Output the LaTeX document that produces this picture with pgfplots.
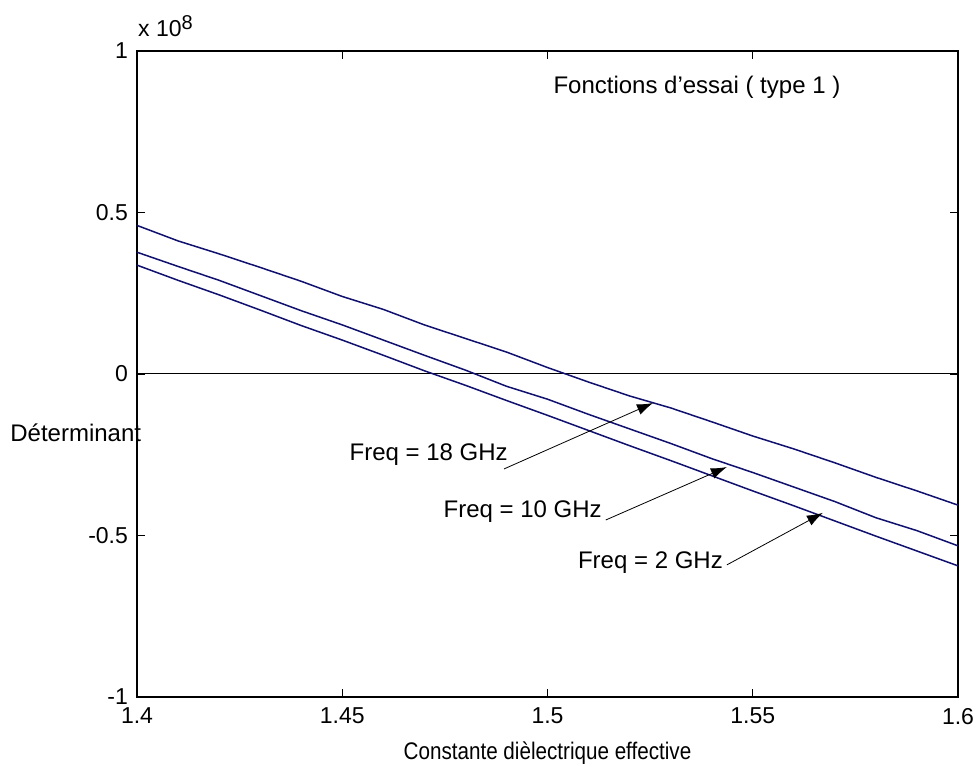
\documentclass[border=0pt]{standalone}
\usepackage{fontspec}
\setmainfont{Liberation Sans}
\usepackage{graphicx}
\usepackage{pgfplots}
\pgfplotsset{compat=1.18}
\usetikzlibrary{arrows.meta}
\definecolor{navy}{RGB}{16,16,110}
\pgfplotstableread{
x y
1.40 0.460
1.41 0.412
1.42 0.372
1.43 0.330
1.44 0.287
1.45 0.240
1.46 0.200
1.47 0.152
1.48 0.110
1.49 0.068
1.50 0.020
1.51 -0.025
1.52 -0.068
1.53 -0.105
1.54 -0.148
1.55 -0.192
1.56 -0.232
1.57 -0.275
1.58 -0.320
1.59 -0.362
1.60 -0.406
}\freqA
\pgfplotstableread{
x y
1.40 0.377
1.41 0.333
1.42 0.290
1.43 0.243
1.44 0.196
1.45 0.152
1.46 0.105
1.47 0.058
1.48 0.012
1.49 -0.038
1.50 -0.078
1.51 -0.125
1.52 -0.170
1.53 -0.215
1.54 -0.262
1.55 -0.305
1.56 -0.350
1.57 -0.395
1.58 -0.445
1.59 -0.485
1.60 -0.532
}\freqB
\pgfplotstableread{
x y
1.40 0.337
1.41 0.290
1.42 0.245
1.43 0.198
1.44 0.150
1.45 0.105
1.46 0.058
1.47 0.010
1.48 -0.035
1.49 -0.082
1.50 -0.128
1.51 -0.175
1.52 -0.222
1.53 -0.268
1.54 -0.315
1.55 -0.362
1.56 -0.408
1.57 -0.455
1.58 -0.502
1.59 -0.548
1.60 -0.594
}\freqC
\begin{document}
\begin{tikzpicture}
\begin{axis}[
  width=410.5pt, height=323pt, scale only axis,
  xmin=1.4, xmax=1.6, ymin=-1, ymax=1,
  xtick={1.4,1.45,1.5,1.55,1.6},
  xticklabels={1.4,1.45,1.5,1.55,1.6},
  ytick={-1,-0.5,0,0.5,1},
  yticklabels={-1,-0.5,0,0.5,1},
  tick align=inside, major tick length=4pt,
  tick style={black, line width=0.4pt},
  axis line style={line width=0.7pt},
  ticklabel style={font=\fontsize{11.5}{13}\selectfont},
  xticklabel style={yshift=-2pt},
  yticklabel style={xshift=-1pt},
  xlabel={\scalebox{0.86}[1]{Constante dièlectrique effective}},
  xlabel style={font=\fontsize{12}{14}\selectfont, inner sep=0pt, at={(axis description cs:0.5,-0.0975)}, anchor=base},
  clip=false,
]
\addplot[black, line width=0.5pt] coordinates {(1.4,0) (1.6,0)};
\addplot[navy, line width=0.75pt] table[x=x,y=y] {\freqA};
\addplot[navy, line width=0.75pt] table[x=x,y=y] {\freqB};
\addplot[navy, line width=0.75pt] table[x=x,y=y] {\freqC};
\draw[line width=0.4pt, -{Latex[length=8pt,width=5.5pt]}] (axis cs:1.4894,-0.294) -- (axis cs:1.5257,-0.0898);
\draw[line width=0.4pt, -{Latex[length=8pt,width=5.5pt]}] (axis cs:1.5142,-0.452) -- (axis cs:1.5437,-0.288);
\draw[line width=0.4pt, -{Latex[length=8pt,width=5.5pt]}] (axis cs:1.5437,-0.591) -- (axis cs:1.5671,-0.430);
\node[anchor=east, inner sep=0pt, font=\fontsize{12}{14}\selectfont] at (axis cs:1.4904,-0.251) {Freq = 18 GHz};
\node[anchor=east, inner sep=0pt, font=\fontsize{12}{14}\selectfont] at (axis cs:1.5133,-0.427) {Freq = 10 GHz};
\node[anchor=east, inner sep=0pt, font=\fontsize{12}{14}\selectfont] at (axis cs:1.5428,-0.585) {Freq = 2 GHz};
\node[anchor=center, inner sep=0pt, font=\fontsize{12}{14}\selectfont] at (axis cs:1.5364,0.889) {Fonctions d'essai ( type 1 )};
\node[anchor=west, inner sep=0pt, font=\fontsize{12}{14}\selectfont] at (rel axis cs:-0.1547,0.4087) {Déterminant};
\node[anchor=base west, inner sep=0pt, font=\fontsize{11.5}{13}\selectfont] at (rel axis cs:0.001,1.0217) {x 10\raisebox{3.5pt}{\fontsize{10}{11}\selectfont 8}};
\coordinate (bbsw) at (rel axis cs:-0.16687,-0.10836);
\coordinate (bbne) at (rel axis cs:1.02558,1.07895);
\end{axis}
\pgfresetboundingbox
\path[use as bounding box] (bbsw) rectangle (bbne);
\end{tikzpicture}
\end{document}
